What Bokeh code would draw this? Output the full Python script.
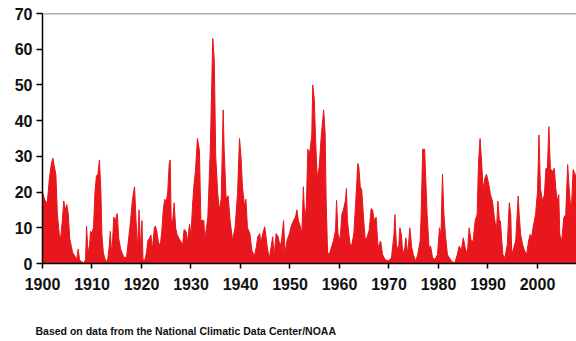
from bokeh.plotting import figure
from bokeh.models import Range1d, Span, FixedTicker, ColumnDataSource, Title
from bokeh.embed import file_html
from bokeh.resources import INLINE

# Percent of area in drought
years = [
    1900.0, 1900.3, 1900.7, 1901.0, 1901.4, 1901.8, 1902.1, 1902.4, 1902.7, 1903.0,
    1903.4, 1903.7, 1904.0, 1904.3, 1904.6, 1904.9, 1905.2, 1905.5, 1905.8, 1906.1,
    1906.5, 1906.9, 1907.2, 1907.5, 1907.9, 1908.3, 1908.7, 1908.9, 1909.2, 1909.5,
    1909.7, 1910.0, 1910.3, 1910.6, 1910.9, 1911.2, 1911.5, 1911.8, 1912.0, 1912.3,
    1912.7, 1913.1, 1913.5, 1913.7, 1914.0, 1914.4, 1914.7, 1915.1, 1915.4, 1915.8,
    1916.2, 1916.6, 1917.0, 1917.4, 1917.8, 1918.1, 1918.4, 1918.6, 1918.9, 1919.2,
    1919.5, 1919.8, 1920.1, 1920.3, 1920.7, 1921.0, 1921.3, 1921.6, 1921.9, 1922.2,
    1922.6, 1922.8, 1923.1, 1923.4, 1923.8, 1924.1, 1924.4, 1924.7, 1925.0, 1925.3,
    1925.6, 1925.8, 1926.0, 1926.3, 1926.6, 1926.9, 1927.2, 1927.6, 1928.0, 1928.3,
    1928.6, 1929.0, 1929.3, 1929.7, 1930.0, 1930.3, 1930.6, 1930.9, 1931.3, 1931.7,
    1932.0, 1932.6, 1932.8, 1933.4, 1933.9, 1934.4, 1934.7, 1935.0, 1935.4, 1935.7,
    1936.1, 1936.5, 1936.7, 1937.1, 1937.5, 1937.9, 1938.4, 1938.9, 1939.4, 1939.8,
    1940.1, 1940.4, 1940.8, 1941.1, 1941.4, 1941.9, 1942.3, 1942.8, 1943.2, 1943.5,
    1943.9, 1944.1, 1944.5, 1944.9, 1945.4, 1945.8, 1946.2, 1946.5, 1946.8, 1947.2,
    1947.6, 1948.0, 1948.3, 1948.7, 1949.0, 1949.4, 1949.9, 1950.2, 1950.7, 1951.1,
    1951.4, 1951.7, 1952.1, 1952.4, 1952.7, 1953.0, 1953.3, 1953.6, 1954.0, 1954.4,
    1954.6, 1954.9, 1955.2, 1955.5, 1955.9, 1956.3, 1956.8, 1957.1, 1957.3, 1957.6,
    1958.0, 1958.4, 1958.8, 1959.2, 1959.4, 1959.7, 1960.1, 1960.5, 1960.8, 1961.2,
    1961.4, 1961.6, 1962.1, 1962.5, 1962.9, 1963.3, 1963.7, 1963.9, 1964.2, 1964.5,
    1964.9, 1965.2, 1965.6, 1966.0, 1966.4, 1966.7, 1967.0, 1967.4, 1967.8, 1968.3,
    1968.7, 1969.2, 1969.9, 1970.5, 1971.0, 1971.2, 1971.5, 1971.9, 1972.2, 1972.5,
    1972.8, 1973.2, 1973.4, 1973.8, 1974.2, 1974.6, 1974.9, 1975.4, 1975.8, 1976.3,
    1976.5, 1976.8, 1977.2, 1977.5, 1977.7, 1978.1, 1978.4, 1978.8, 1979.3, 1979.8,
    1980.2, 1980.5, 1980.8, 1981.1, 1981.4, 1981.8, 1982.2, 1982.7, 1983.3, 1983.8,
    1984.2, 1984.6, 1985.0, 1985.4, 1985.8, 1986.2, 1986.6, 1987.0, 1987.4, 1987.8,
    1988.1, 1988.4, 1988.7, 1989.0, 1989.4, 1989.7, 1990.1, 1990.5, 1990.9, 1991.3,
    1991.7, 1992.0, 1992.3, 1992.5, 1993.0, 1993.4, 1993.9, 1994.3, 1994.6, 1994.8,
    1995.2, 1995.6, 1996.1, 1996.3, 1996.6, 1997.0, 1997.4, 1997.8, 1998.2, 1998.5,
    1998.8, 1999.1, 1999.6, 2000.0, 2000.3, 2000.6, 2001.0, 2001.4, 2001.7, 2002.0,
    2002.3, 2002.6, 2003.0, 2003.4, 2003.7, 2004.0, 2004.3, 2004.5, 2004.9, 2005.3,
    2005.7, 2006.1, 2006.4, 2006.8, 2007.2, 2007.6, 2007.9,
]
drought_pct = [
    20, 18.5, 17, 17.5, 24, 28, 29.5, 27, 25, 14,
    8, 7.5, 12, 17.5, 15, 16.5, 14, 7, 5, 3,
    2.2, 1, 4, 1, 0.5, 0.2, 1, 10.5, 3, 5,
    9, 8.5, 10, 20, 24.5, 25, 29, 20, 8, 3,
    1, 0.5, 5, 9, 2, 13, 12, 14, 7, 4,
    2.5, 1.5, 2, 7, 12, 17, 20, 21.5, 12, 4,
    15, 4, 12, 1, 1, 3, 6.5, 7, 8, 4,
    10, 10.5, 9, 6, 5, 9, 15, 18, 17, 20,
    28, 29, 12, 12, 17, 10, 8, 7, 6, 5,
    9.5, 9, 6, 11, 8, 16, 22, 26, 35, 31.7,
    12, 12, 6.5, 13, 32, 63, 57, 30, 19.6, 15,
    18, 43, 32, 18, 19, 12, 6.5, 10, 19.6, 35,
    30, 21.5, 16, 18, 10, 8.4, 3.7, 2, 4.7, 7.5,
    8.4, 5.6, 8.4, 10.3, 4.7, 1.4, 4.7, 7.5, 2, 8.4,
    7.5, 4.7, 6.5, 12, 2.8, 6.5, 8.4, 10.3, 12, 13,
    15, 12, 10.3, 8.4, 21.5, 12, 16, 32, 31, 36,
    50, 46, 33.6, 24, 27, 35.5, 43, 36.4, 17.7, 2.8,
    2.8, 4.7, 6.5, 9.3, 17.7, 8.4, 6.5, 14, 15, 17.7,
    21, 12, 5.6, 5.1, 8.4, 17.7, 28, 27, 21.5, 20.5,
    12, 6.5, 7.5, 9.3, 15.4, 15, 12, 13, 4.4, 6.3,
    2.5, 1.1, 0.7, 1.6, 8.1, 13.7, 5.3, 3.5, 10, 8.1,
    2.5, 4.4, 7.2, 2.5, 10, 4.4, 2.5, 0.7, 2.5, 6.3,
    13.7, 32, 32, 21, 13.7, 4.4, 4.9, 1.6, 1.1, 2.5,
    10, 8.1, 25, 13.7, 8.1, 2.5, 1.6, 0.5, 0.2, 2.5,
    4.9, 3.5, 7.2, 4.4, 2.5, 10, 6.3, 6.3, 11.9, 13.7,
    28.7, 35, 28.7, 21, 24, 25, 22.6, 19.3, 17.5, 12.8,
    9, 17.5, 11.9, 11.9, 2.5, 1.6, 5.3, 17, 13.7, 2.5,
    4.4, 6.3, 18.9, 13.7, 8.1, 5.3, 3.5, 2.5, 6.3, 8.1,
    7.2, 10, 13.7, 20, 36, 21, 17.5, 19.3, 26.6, 26.6,
    38.3, 26.6, 25.7, 26.6, 21, 17.5, 19.3, 8.1, 6.3, 12.8,
    13.7, 27.7, 21, 13.7, 26.3, 25, 24,
]
x_ticks = [1900, 1910, 1920, 1930, 1940, 1950, 1960, 1970, 1980, 1990, 2000]
y_ticks = [0, 10, 20, 30, 40, 50, 60, 70]
caption = "Based on data from the National Climatic Data Center/NOAA"

RED = "#e8161d"
FONT = "Liberation Sans"

src = ColumnDataSource(data=dict(x=years, y=drought_pct, base=[0] * len(years)))

p = figure(width=576, height=341, output_backend="svg", toolbar_location=None,
           x_range=Range1d(1900, 2007.88), y_range=Range1d(0, 70),
           min_border_left=42, min_border_right=0, min_border_top=13,
           min_border_bottom=78)
p.outline_line_color = None
p.background_fill_color = "white"
p.border_fill_color = "white"
p.xgrid.visible = False
p.ygrid.visible = False

p.varea(x="x", y1="base", y2="y", source=src, fill_color=RED)
p.line(x="x", y="y", source=src, line_color=RED, line_width=1)

p.add_layout(Span(location=70, dimension="width", line_color="#666666", line_width=1.5))

for ax in (p.xaxis[0], p.yaxis[0]):
    ax.axis_line_color = "black"
    ax.axis_line_width = 1.5
    ax.major_tick_line_color = "black"
    ax.major_tick_line_width = 1.5
    ax.major_tick_in = 0
    ax.minor_tick_line_color = None
    ax.major_label_text_font = FONT
    ax.major_label_text_font_style = "bold"
    ax.major_label_text_font_size = "16px"
    ax.major_label_text_color = "#111111"

p.xaxis.ticker = FixedTicker(ticks=x_ticks)
p.yaxis.ticker = FixedTicker(ticks=y_ticks)
p.xaxis.major_tick_out = 5
p.yaxis.major_tick_out = 6
p.xaxis.major_label_standoff = 9
p.yaxis.major_label_standoff = 4

# blank axis label used only as vertical spacing before the caption
p.xaxis.axis_label = " "
p.xaxis.axis_label_text_font_size = "10px"
p.xaxis.axis_label_standoff = 16

cap = Title(text=caption, align="left", offset=-7, standoff=0,
            text_font=FONT, text_font_style="bold", text_font_size="10.5px",
            text_color="#111111")
p.add_layout(cap, "below")

open("out.html", "w").write(file_html(p, INLINE))
